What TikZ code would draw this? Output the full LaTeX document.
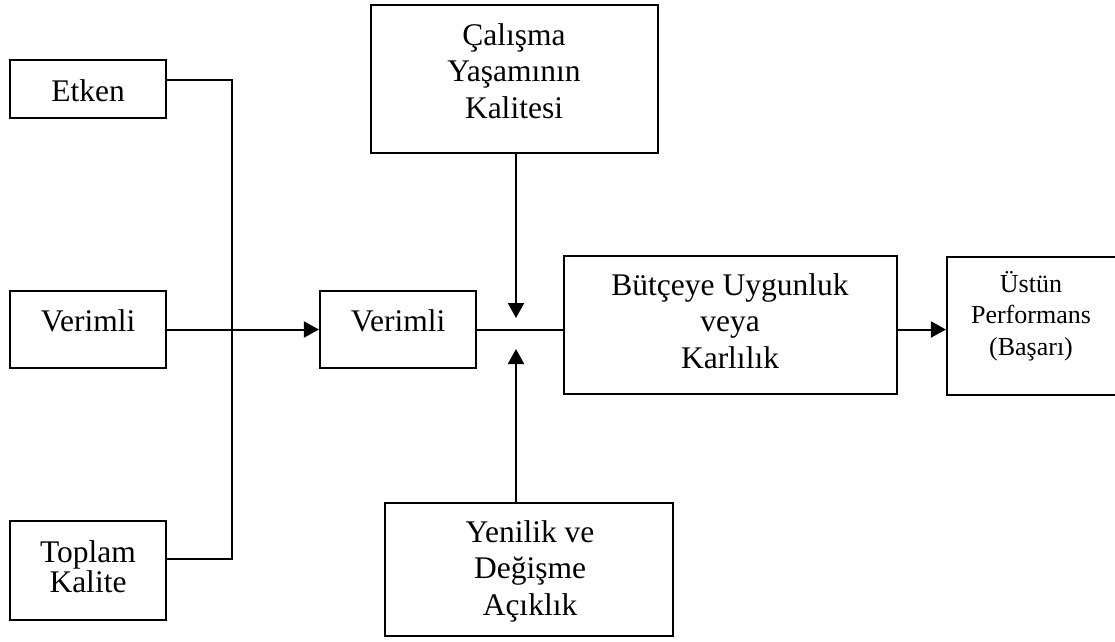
\documentclass[tikz,border=0pt]{standalone}
\usepackage{fontspec}
\setmainfont{Liberation Serif}
\usetikzlibrary{arrows.meta}

\begin{document}
\begin{tikzpicture}[x=1pt, y=-1pt,
  box/.style={draw, line width=2.2pt, inner sep=0pt},
  txt/.style={anchor=base, align=center, inner sep=0pt,
    font=\fontsize{31.5}{36.5}\selectfont},
  small/.style={font=\fontsize{26}{31.5}\selectfont},
  link/.style={line width=2pt},
  tip/.style={link, -{Triangle[length=15pt, width=16pt]}}]

\useasboundingbox (0,0) rectangle (1115,641);

% boxes
\node[box, minimum width=156pt, minimum height=58pt]  (etken)   at (88,89)      {};
\node[box, minimum width=156pt, minimum height=77pt]  (verimA)  at (88,329.5)   {};
\node[box, minimum width=156pt, minimum height=99pt]  (toplam)  at (88,570.5)   {};
\node[box, minimum width=156pt, minimum height=77pt]  (verimB)  at (398,329.5)  {};
\node[box, minimum width=287pt, minimum height=148pt] (calisma) at (514.5,79)   {};
\node[box, minimum width=333pt, minimum height=138pt] (butce)   at (730.5,325)  {};
\node[box, minimum width=170pt, minimum height=138pt] (ustun)   at (1032,326)   {};
\node[box, minimum width=288pt, minimum height=133pt] (yenilik) at (529,569.5)  {};

% labels (anchored at the baseline of the last line)
\node[txt] (tEtken)   at (88,101)    {Etken};
\node[txt] (tVerimA)  at (88,331)    {Verimli};
\node[txt, font=\fontsize{31.5}{30}\selectfont] (tToplam) at (88,592) {Toplam\\Kalite};
\node[txt] (tVerimB)  at (398,331)   {Verimli};
\node[txt] (tCalisma) at (514,118)   {Çalışma\\Yaşamının\\Kalitesi};
\node[txt] (tButce)   at (730,368)   {Bütçeye Uygunluk\\veya\\Karlılık};
\node[txt, small] (tUstun) at (1031,355) {Üstün\\Performans\\(Başarı)};
\node[txt] (tYenilik) at (530,615)   {Yenilik ve\\Değişme\\Açıklık};

% junction points
\coordinate (busTop) at (232,80);
\coordinate (busBot) at (232,559);
\coordinate (dnTip)  at (516,318);
\coordinate (upTip)  at (516,349);

% connectors
\draw[link] (etken.east |- busTop) -- (busTop) -- (busBot) -- (toplam.east |- busBot);
\draw[tip] (verimA.east) -- (verimB.west);
\draw[link] (verimB.east) -- (verimB.east -| butce.west);
\draw[tip] (calisma.south -| dnTip) -- (dnTip);
\draw[tip] (yenilik.north -| upTip) -- (upTip);
\draw[tip] (butce.east |- verimB.east) -- (ustun.west |- verimB.east);
\end{tikzpicture}
\end{document}
